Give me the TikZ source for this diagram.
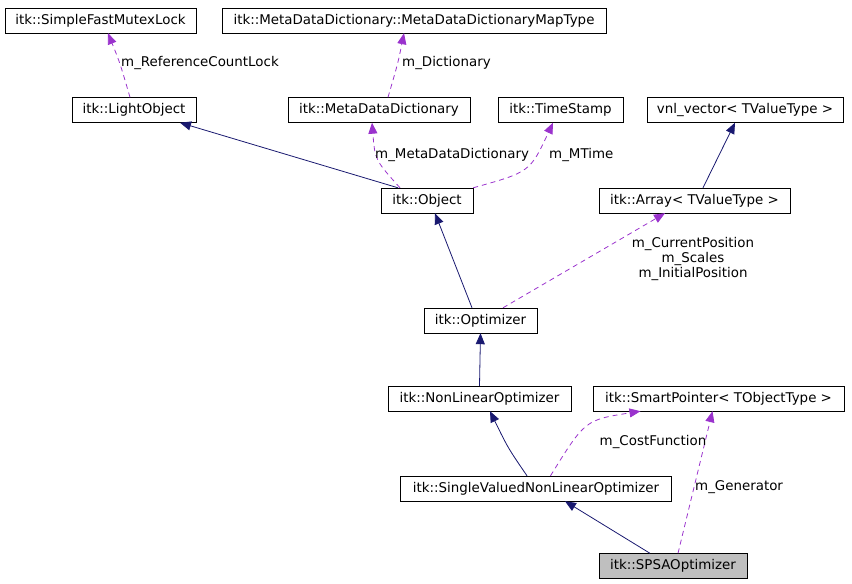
\documentclass[tikz,border=0pt]{standalone}
\usepackage{fontspec}
\setmainfont{DejaVu Sans}
\usetikzlibrary{arrows.meta}
\definecolor{inheritLine}{RGB}{25,25,112}
\definecolor{memberLine}{RGB}{154,50,205}
\definecolor{focusFill}{RGB}{191,191,191}
\tikzset{
  classbox/.style={
    draw=black,
    fill=white,
    minimum height=25pt,
    inner sep=0pt,
    font=\fontsize{13.4}{15}\selectfont
  },
  focusbox/.style={classbox, fill=focusFill},
  derive/.style={-{Triangle[length=11pt,width=9pt]}, draw=inheritLine, line width=0.8pt},
  usage/.style={-{Triangle[length=11pt,width=9pt]}, draw=memberLine, line width=0.8pt, dash pattern=on 5pt off 4pt},
  lbl/.style={font=\fontsize{13.4}{15}\selectfont, inner sep=0pt, align=center}
}

\begin{document}
\begin{tikzpicture}[x=1pt, y=-1pt]
  \useasboundingbox (0,0) rectangle (852,584);

  \node[classbox, minimum width=191pt] (mutex) at (100.5,20.5) {itk::SimpleFastMutexLock};
  \node[classbox, minimum width=384pt] (maptype) at (414,20.5) {itk::MetaDataDictionary::MetaDataDictionaryMapType};
  \node[classbox, minimum width=124pt] (light) at (134,110) {itk::LightObject};
  \node[classbox, minimum width=182pt] (dict) at (379,110) {itk::MetaDataDictionary};
  \node[classbox, minimum width=125pt] (stamp) at (560.5,110) {itk::TimeStamp};
  \node[classbox, minimum width=196pt] (vnl) at (745,110) {vnl\_vector< TValueType >};
  \node[classbox, minimum width=92pt] (obj) at (427,200.5) {itk::Object};
  \node[classbox, minimum width=191pt] (array) at (694.5,200.5) {itk::Array< TValueType >};
  \node[classbox, minimum width=113pt] (opt) at (480.5,320.5) {itk::Optimizer};
  \node[classbox, minimum width=183pt] (nonlin) at (479.5,398.5) {itk::NonLinearOptimizer};
  \node[classbox, minimum width=251pt] (smart) at (718.5,398.5) {itk::SmartPointer< TObjectType >};
  \node[classbox, minimum width=271pt] (single) at (536,488.5) {itk::SingleValuedNonLinearOptimizer};
  \node[focusbox, minimum width=148pt] (spsa) at (673,566) {itk::SPSAOptimizer};

  % inheritance
  \draw[derive] ([xshift=-29pt]obj.north) -- ([xshift=46pt]light.south);
  \draw[derive] ([xshift=8.5pt]array.north) -- ([xshift=-10pt]vnl.south);
  \draw[derive] ([xshift=-8.5pt]opt.north) -- ([xshift=8pt]obj.south);
  \draw[derive] (nonlin.north) -- (opt.south);
  \draw[derive] ([xshift=-9pt]single.north) .. controls (508,448) .. ([xshift=10.5pt]nonlin.south);
  \draw[derive] ([xshift=-23pt]spsa.north) -- ([xshift=29pt]single.south);

  % members
  \draw[usage] ([xshift=-4pt]light.north) .. controls (120,63) .. ([xshift=7.5pt]mutex.south);
  \draw[usage] ([xshift=9pt]dict.north) .. controls (398,63) .. ([xshift=-10pt]maptype.south);
  \draw[usage] ([xshift=-27pt]obj.north) .. controls (375,160) .. ([xshift=-7pt]dict.south);
  \draw[usage] (obj.north east) .. controls (530,172) .. ([xshift=-7.5pt]stamp.south);
  \draw[usage] ([xshift=22.5pt]opt.north) -- ([xshift=-29.5pt]array.south);
  \draw[usage] ([xshift=14.5pt]single.north) .. controls (585,420) .. ([xshift=-78pt]smart.south);
  \draw[usage] ([xshift=5pt]spsa.north) -- ([xshift=-6pt]smart.south);

  \node[lbl, anchor=west] (lblLock) at (121,63) {m\_ReferenceCountLock};
  \node[lbl, anchor=west] (lblDict) at (402,63) {m\_Dictionary};
  \node[lbl, anchor=west] (lblMeta) at (375,155) {m\_MetaDataDictionary};
  \node[lbl, anchor=west] (lblTime) at (549,155) {m\_MTime};
  \node[lbl] (lblPos) at (693,259) {m\_CurrentPosition\\m\_Scales\\m\_InitialPosition};
  \node[lbl] (lblCost) at (653,442) {m\_CostFunction};
  \node[lbl, anchor=west] (lblGen) at (695,487) {m\_Generator};
\end{tikzpicture}
\end{document}
